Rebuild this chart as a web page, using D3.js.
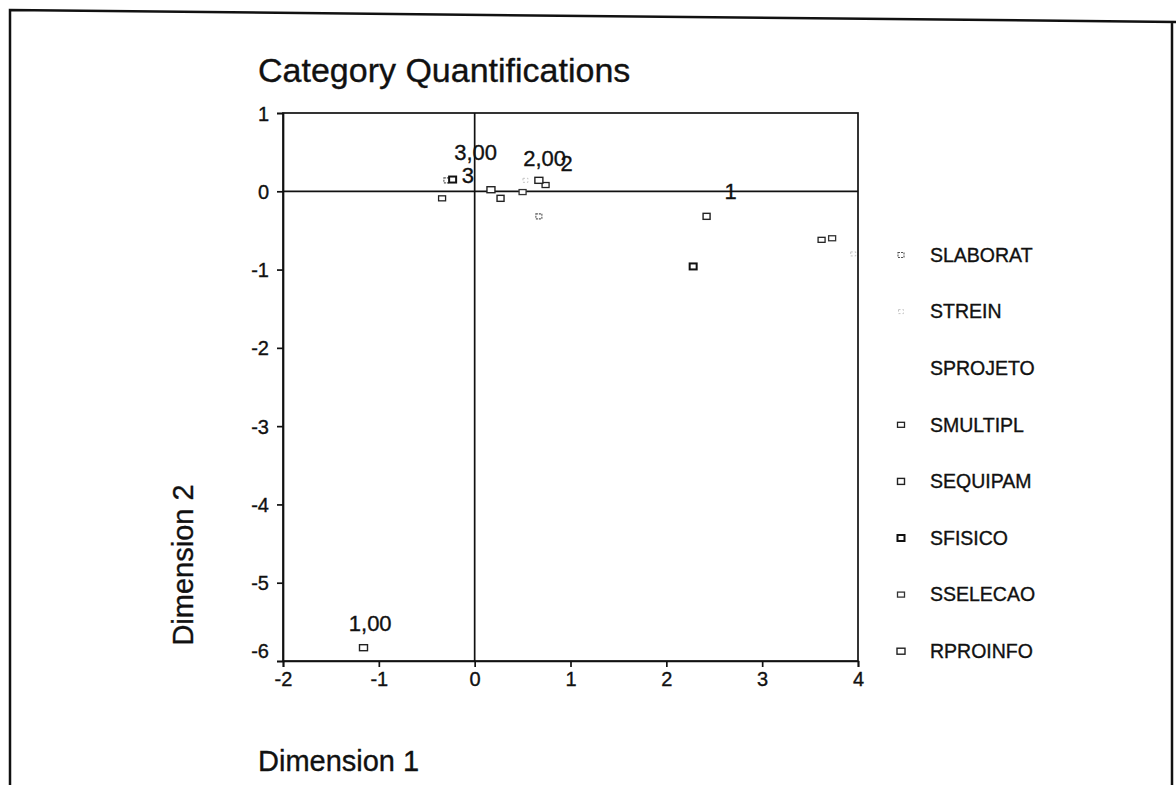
<!DOCTYPE html>
<html>
<head>
<meta charset="utf-8">
<script src="https://cdn.jsdelivr.net/npm/d3@7"></script>
<style>
    body { margin: 0; background: #fff; }
    svg text { font-family: "Liberation Sans", Arial, sans-serif; fill: #111; stroke: #111; stroke-width: 0.35px; }
</style>
</head>
<body>
<div id="chart"></div>
<script>
// category quantifications
var seriesNames = ["SLABORAT", "STREIN", "SPROJETO", "SMULTIPL", "SEQUIPAM", "SFISICO", "SSELECAO", "RPROINFO"];
var pointSeries = ["SLABORAT", "SLABORAT", "STREIN", "STREIN", "SMULTIPL", "SMULTIPL", "SMULTIPL",
    "SEQUIPAM", "SEQUIPAM", "SFISICO", "SFISICO", "SSELECAO", "SSELECAO", "RPROINFO", "RPROINFO", "RPROINFO"];
var dim1 = [-0.29, 0.67, 0.53, 3.95, -0.34, 0.74, 3.62, 0.27, 2.42, -0.23, 2.28, 0.50, 3.73, -1.16, 0.17, 0.67];
var dim2 = [0.14, -0.32, 0.14, -0.80, -0.09, 0.08, -0.62, -0.09, -0.32, 0.15, -0.96, -0.01, -0.60, -5.83, 0.02, 0.14];

var labelTexts = ["3,00", "3", "2,00", "2", "1", "1,00"];
var labelDim1 = [0.01, -0.07, 0.73, 0.96, 2.67, -1.09];
var labelDim2 = [0.50, 0.20, 0.42, 0.36, 0.00, -5.52];

var xTicks = [-2, -1, 0, 1, 2, 3, 4];
var yTicks = [1, 0, -1, -2, -3, -4, -5, -6];

(function () {
    var width = 1176;
    var height = 785;

    var markerStyle = {
        SLABORAT: { stroke: "#555", width: 1.1, dash: "2,1", w: 6, h: 5 },
        STREIN: { stroke: "#c4c4c4", width: 1, dash: "2,2", w: 5, h: 4 },
        SPROJETO: null,
        SMULTIPL: { stroke: "#222", width: 1.3, dash: null, w: 7, h: 5 },
        SEQUIPAM: { stroke: "#222", width: 1.4, dash: null, w: 7, h: 6 },
        SFISICO: { stroke: "#111", width: 2, dash: null, w: 7, h: 6 },
        SSELECAO: { stroke: "#333", width: 1.3, dash: null, w: 7, h: 5 },
        RPROINFO: { stroke: "#222", width: 1.4, dash: null, w: 8, h: 6 }
    };

    var svg = d3.select("#chart")
        .append("svg")
        .attr("width", width)
        .attr("height", height);

    // scanned page border
    svg.append("path")
        .attr("d", "M10,800 L10,10 L1176,22 M1172,22 L1172,800")
        .attr("fill", "none")
        .attr("stroke", "#111")
        .attr("stroke-width", 2.5);

    var x = d3.scaleLinear().domain([-2, 4]).range([283, 858]);
    var y = d3.scaleLinear().domain([-6, 1]).range([661, 113]);

    svg.append("text")
        .attr("x", 258)
        .attr("y", 82)
        .attr("font-size", 34)
        .text("Category Quantifications");

    // frame
    svg.append("rect")
        .attr("x", x(-2))
        .attr("y", y(1))
        .attr("width", x(4) - x(-2))
        .attr("height", y(-6) - y(1))
        .attr("fill", "none")
        .attr("stroke", "#111")
        .attr("stroke-width", 1.7);

    // zero reference lines
    svg.append("line")
        .attr("x1", x(-2)).attr("x2", x(4))
        .attr("y1", y(0)).attr("y2", y(0))
        .attr("stroke", "#111").attr("stroke-width", 1.7);
    svg.append("line")
        .attr("x1", x(0)).attr("x2", x(0))
        .attr("y1", y(1)).attr("y2", y(-6))
        .attr("stroke", "#111").attr("stroke-width", 1.7);

    var xAxis = svg.append("g")
        .attr("transform", "translate(0," + y(-6) + ")")
        .call(d3.axisBottom(x).tickValues(xTicks).tickSize(6).tickPadding(5).tickFormat(function (d) { return String(d); }));
    var yAxis = svg.append("g")
        .attr("transform", "translate(" + x(-2) + ",0)")
        .call(d3.axisLeft(y).tickValues(yTicks).tickSize(6).tickPadding(8).tickFormat(function (d) { return String(d); }));

    [xAxis, yAxis].forEach(function (g) {
        g.select(".domain").attr("stroke", "#111").attr("stroke-width", 1.7);
        g.selectAll(".tick line").attr("stroke", "#111").attr("stroke-width", 1.7);
        g.selectAll(".tick text")
            .attr("font-size", 20)
            .attr("font-family", "Liberation Sans, Arial, sans-serif")
            .attr("fill", "#111");
    });
    yAxis.selectAll(".tick text").attr("dy", "0.35em");
    yAxis.selectAll(".tick").filter(function (d) { return d === -6; })
        .select("text").attr("dy", "-0.2em");

    svg.append("text")
        .attr("transform", "translate(193," + 565 + ") rotate(-90)")
        .attr("text-anchor", "middle")
        .attr("font-size", 29)
        .text("Dimension 2");

    svg.append("text")
        .attr("x", 258)
        .attr("y", 771)
        .attr("font-size", 29)
        .text("Dimension 1");

    var points = dim1.map(function (d, i) {
        return { series: pointSeries[i], d1: d, d2: dim2[i] };
    });

    svg.append("g")
        .selectAll("rect")
        .data(points.filter(function (p) { return markerStyle[p.series]; }))
        .enter()
        .append("rect")
        .attr("x", function (p) { return x(p.d1) - markerStyle[p.series].w / 2; })
        .attr("y", function (p) { return y(p.d2) - markerStyle[p.series].h / 2; })
        .attr("width", function (p) { return markerStyle[p.series].w; })
        .attr("height", function (p) { return markerStyle[p.series].h; })
        .attr("fill", "#fff")
        .attr("stroke", function (p) { return markerStyle[p.series].stroke; })
        .attr("stroke-width", function (p) { return markerStyle[p.series].width; })
        .attr("stroke-dasharray", function (p) { return markerStyle[p.series].dash; });

    svg.append("g")
        .selectAll("text")
        .data(labelTexts)
        .enter()
        .append("text")
        .attr("x", function (d, i) { return x(labelDim1[i]); })
        .attr("y", function (d, i) { return y(labelDim2[i]); })
        .attr("dy", "0.35em")
        .attr("text-anchor", "middle")
        .attr("font-size", 22)
        .text(function (d) { return d; });

    // legend
    var legend = svg.append("g")
        .selectAll("g")
        .data(seriesNames)
        .enter()
        .append("g")
        .attr("transform", function (d, i) { return "translate(901," + (255 + i * 56.6) + ")"; });

    legend.filter(function (d) { return markerStyle[d]; })
        .append("rect")
        .attr("x", function (d) { return -markerStyle[d].w / 2; })
        .attr("y", function (d) { return -markerStyle[d].h / 2; })
        .attr("width", function (d) { return markerStyle[d].w; })
        .attr("height", function (d) { return markerStyle[d].h; })
        .attr("fill", "#fff")
        .attr("stroke", function (d) { return markerStyle[d].stroke; })
        .attr("stroke-width", function (d) { return markerStyle[d].width; })
        .attr("stroke-dasharray", function (d) { return markerStyle[d].dash; });

    legend.append("text")
        .attr("x", 29)
        .attr("dy", "0.35em")
        .attr("font-size", 19.5)
        .text(function (d) { return d; });
}());
</script>
</body>
</html>
